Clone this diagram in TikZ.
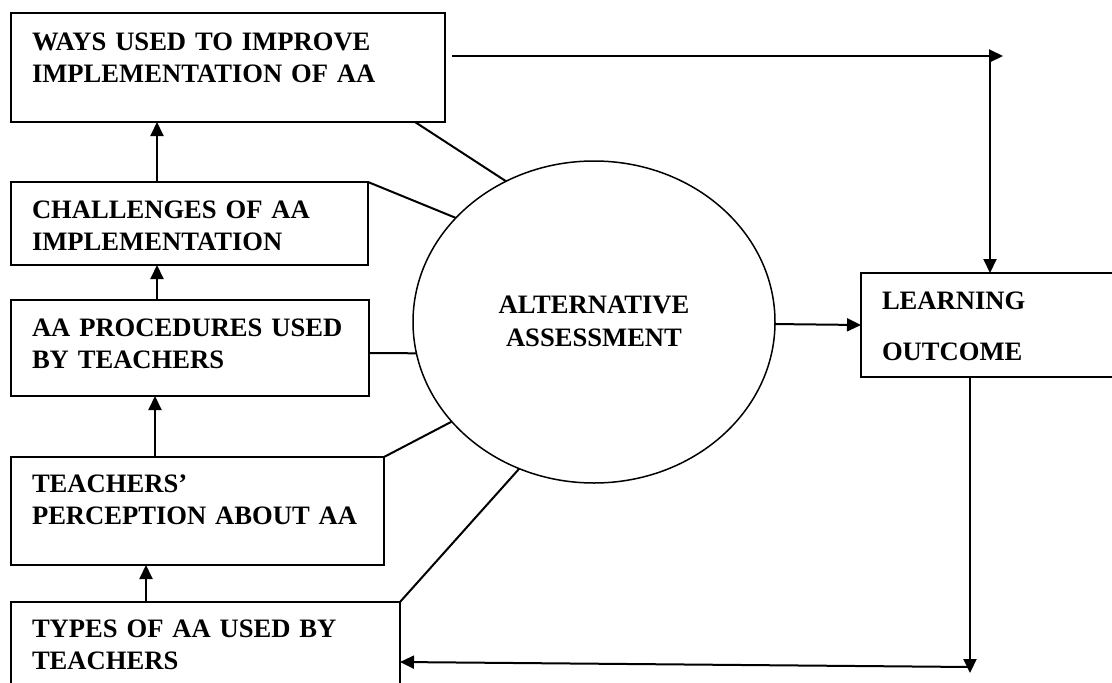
\documentclass[tikz,border=0pt]{standalone}
\usepackage{fontspec}
\setmainfont{Liberation Serif}
\usetikzlibrary{arrows.meta,shapes.geometric}

\begin{document}
\begin{tikzpicture}[x=1pt,y=-1pt,
    font=\fontsize{26.6}{32.5}\selectfont\bfseries,
    box/.style={draw,line width=2pt,anchor=north west,align=left,outer sep=0pt,inner xsep=21pt,inner ysep=0pt},
    arr/.style={-{Triangle[length=14pt,width=13pt]},line width=2pt},
    link/.style={line width=2pt}]
  \useasboundingbox (0,0) rectangle (1112,683);
  % left column of boxes
  \node[box,text width=392pt,text height=37pt,text depth=72pt] (ways) at (11,13) {WAYS USED TO IMPROVE\\IMPLEMENTATION OF AA};
  \node[box,text width=315pt,text height=36pt,text depth=47pt] (chal) at (11,182) {CHALLENGES OF AA\\IMPLEMENTATION};
  \node[box,text width=316pt,text height=36pt,text depth=60pt] (proc) at (11,300) {AA PROCEDURES USED\\BY TEACHERS};
  \node[box,text width=331pt,text height=35pt,text depth=73pt] (perc) at (11,457) {TEACHERS’\\PERCEPTION ABOUT AA};
  \node[box,text width=347pt,text height=35pt,text depth=90pt] (types) at (11,602) {TYPES OF AA USED BY\\TEACHERS};
  % centre and outcome
  \node[draw,ellipse,line width=1.5pt,outer sep=0pt,inner sep=0pt,minimum width=362pt,minimum height=322pt,
        align=center,text height=58pt,text depth=10pt] (aa) at (594,322) {ALTERNATIVE\\ASSESSMENT};
  \node[box,text width=270pt,text height=36pt,text depth=68pt] (lo) at (861,273) {LEARNING\\[18.5pt]OUTCOME};
  \coordinate (tr) at (1003,56);
  \coordinate (br) at (970,673);

  \draw[arr] (chal.north -| 157,0) -- (ways.south -| 157,0);
  \draw[arr] (proc.north -| 157,0) -- (chal.south -| 157,0);
  \draw[arr] (perc.north -| 155,0) -- (proc.south -| 155,0);
  \draw[arr] (types.north -| 146,0) -- (perc.south -| 146,0);

  \draw[link] ([xshift=-30pt]ways.south east) -- (aa.122);
  \draw[link] (chal.north east) -- (aa.143);
  \draw[link] ([yshift=-5pt]proc.east) -- (aa.190);
  \draw[link] (perc.north east) -- (aa.215);
  \draw[link] (types.north east) -- (aa.243);

  \draw[arr] ([xshift=7pt]ways.east |- tr) -- (tr);
  \draw[arr] ([xshift=-13pt]tr) -- ([xshift=-13pt]tr |- lo.north);
  \draw[arr] (aa) -- (lo.west);
  \draw[arr] (lo.south -| br) -- (br);
  \draw[arr] ([yshift=6pt]br) -- (types.east |- 0,662);
\end{tikzpicture}
\end{document}
